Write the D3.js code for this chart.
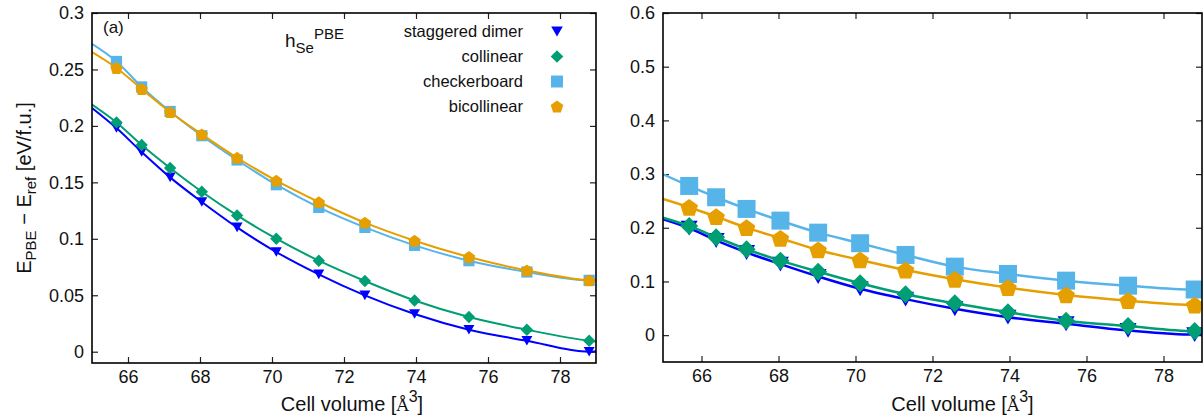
<!DOCTYPE html>
<html>
<head>
<meta charset="utf-8">
<script src="https://cdn.jsdelivr.net/npm/d3@7"></script>
<style>
  body { margin: 0; background: #fff; }
  svg { display: block; }
  text { font-family: "Liberation Sans", Arial, Helvetica, sans-serif; fill: #111; }
</style>
</head>
<body>
<svg id="chart" width="1203" height="420"></svg>
<script>
// ---- data -------------------------------------------------------------
const volumes = [65.68, 66.38, 67.17, 68.05, 69.03, 70.12, 71.30, 72.58, 73.96, 75.47, 77.08, 78.81];
const seriesNames = ["staggered dimer", "collinear", "checkerboard", "bicollinear"];
const xTickValues = [66, 68, 70, 72, 74, 76, 78];
const leftYTicks = [0, 0.05, 0.1, 0.15, 0.2, 0.25, 0.3];
const rightYTicks = [0, 0.1, 0.2, 0.3, 0.4, 0.5, 0.6];

// panel (a)
const leftStaggered = [0.1981, 0.1769, 0.1544, 0.1326, 0.1101, 0.0883, 0.0685, 0.0499, 0.0334, 0.0195, 0.0097, 0.0000];
const leftCollinear = [0.2031, 0.1831, 0.1627, 0.1417, 0.1207, 0.1001, 0.0806, 0.0626, 0.0454, 0.0307, 0.0195, 0.0097];
const leftCheckerboard = [0.2571, 0.2345, 0.2128, 0.1913, 0.1698, 0.1479, 0.1278, 0.1101, 0.0942, 0.0806, 0.0706, 0.0632];
const leftBicollinear = [0.2513, 0.2327, 0.2123, 0.1925, 0.1718, 0.1515, 0.1326, 0.1143, 0.0983, 0.0839, 0.0720, 0.0632];
// fitted curves at the ends of the volume range (65 and 79 Å^3), series order
const leftFitStart = [0.2159, 0.2189, 0.2727, 0.2653];
const leftFitEnd = [0.0005, 0.0090, 0.0635, 0.0628];

// second panel
const rightStaggered = [0.1993, 0.1764, 0.1540, 0.1322, 0.1093, 0.0864, 0.0671, 0.0492, 0.0335, 0.0212, 0.0088, 0.0010];
const rightCollinear = [0.2034, 0.1823, 0.1600, 0.1388, 0.1183, 0.0966, 0.0762, 0.0594, 0.0426, 0.0270, 0.0171, 0.0078];
const rightCheckerboard = [0.2779, 0.2568, 0.2351, 0.2133, 0.1909, 0.1712, 0.1494, 0.1276, 0.1140, 0.1015, 0.0922, 0.0850];
const rightBicollinear = [0.2382, 0.2207, 0.2002, 0.1805, 0.1587, 0.1401, 0.1214, 0.1041, 0.0885, 0.0749, 0.0643, 0.0562];
const rightFitStart = [0.2159, 0.2189, 0.2997, 0.2537];
const rightFitEnd = [0.0015, 0.0085, 0.0870, 0.0585];

// ---- styling ------------------------------------------------------------
const colors = ["#0000ff", "#009e73", "#56b4e9", "#e69f00"];
const markerKinds = ["triangleDown", "diamond", "square", "pentagon"];

const svg = d3.select("#chart");

// marker outlines, centred on (0,0); s is the half-width
function markerPath(kind, s) {
  const p = d3.path();
  if (kind === "square") {
    p.rect(-s, -s, 2 * s, 2 * s);
  } else if (kind === "diamond") {
    p.moveTo(0, -s); p.lineTo(s, 0); p.lineTo(0, s); p.lineTo(-s, 0); p.closePath();
  } else if (kind === "triangleDown") {
    const h = s * 1.75;
    p.moveTo(-s, -h / 2); p.lineTo(s, -h / 2); p.lineTo(0, h / 2); p.closePath();
  } else if (kind === "pentagon") {
    const r = s / Math.sin(2 * Math.PI / 5);
    for (let k = 0; k < 5; k++) {
      const a = -Math.PI / 2 + k * 2 * Math.PI / 5;
      const px = r * Math.cos(a), py = r * Math.sin(a) + r * 0.1;
      if (k === 0) p.moveTo(px, py); else p.lineTo(px, py);
    }
    p.closePath();
  }
  return p.toString();
}

function drawPanel(cfg) {
  const g = svg.append("g");
  const x = d3.scaleLinear().domain([65, 79]).range([cfg.x0, cfg.x1]);
  const y = d3.scaleLinear().domain(cfg.yDomain).range([cfg.y1, cfg.y0]);

  const clipId = "clip" + cfg.id;
  svg.append("clipPath").attr("id", clipId)
    .append("rect").attr("x", cfg.x0).attr("y", cfg.y0)
    .attr("width", cfg.x1 - cfg.x0).attr("height", cfg.y1 - cfg.y0);

  // axes with inward ticks, mirrored on top and right
  const tickLen = 6;
  const bottom = g.append("g").attr("transform", `translate(0,${cfg.y1})`)
    .call(d3.axisBottom(x).tickValues(xTickValues).tickSize(-tickLen).tickSizeOuter(0).tickPadding(7));
  bottom.selectAll("text").attr("dy", "0.71em").style("font-size", "18px");
  g.append("g").attr("transform", `translate(0,${cfg.y0})`)
    .call(d3.axisTop(x).tickValues(xTickValues).tickSize(-tickLen).tickSizeOuter(0).tickFormat(""));
  const left = g.append("g").attr("transform", `translate(${cfg.x0},0)`)
    .call(d3.axisLeft(y).tickValues(cfg.yTicks).tickSize(-tickLen).tickSizeOuter(0).tickPadding(8).tickFormat(d => String(d)));
  left.selectAll("text").style("font-size", "18px");
  g.append("g").attr("transform", `translate(${cfg.x1},0)`)
    .call(d3.axisRight(y).tickValues(cfg.yTicks).tickSize(-tickLen).tickSizeOuter(0).tickFormat(""));
  g.selectAll(".domain").remove();
  g.selectAll(".tick line").attr("stroke", "#222").attr("stroke-width", 1.2);
  g.selectAll(".tick text").attr("fill", "#111").style("font-family", '"Liberation Sans", Arial, sans-serif');

  const line = d3.line().x(d => x(d[0])).y(d => y(d[1])).curve(d3.curveMonotoneX);
  const plot = g.append("g").attr("clip-path", `url(#${clipId})`);

  cfg.series.forEach((vals, i) => {
    const pts = [[65, cfg.fitStart[i]]]
      .concat(volumes.map((v, j) => [v, vals[j]]))
      .concat([[79, cfg.fitEnd[i]]]);
    plot.append("path").attr("d", line(pts))
      .attr("fill", "none").attr("stroke", colors[i]).attr("stroke-width", cfg.lineWidth);
    plot.selectAll(null).data(volumes.map((v, j) => [v, vals[j]])).enter()
      .append("path")
      .attr("d", markerPath(markerKinds[i], cfg.markerSize[i]))
      .attr("transform", d => `translate(${x(d[0])},${y(d[1])})`)
      .attr("fill", colors[i]);
  });

  // frame
  g.append("rect").attr("x", cfg.x0).attr("y", cfg.y0)
    .attr("width", cfg.x1 - cfg.x0).attr("height", cfg.y1 - cfg.y0)
    .attr("fill", "none").attr("stroke", "#000").attr("stroke-width", 1.6);

  // x-axis title
  const xt = g.append("text").attr("x", (cfg.x0 + cfg.x1) / 2 + cfg.titleShift).attr("y", 411)
    .attr("text-anchor", "middle").style("font-size", "20px");
  xt.append("tspan").text("Cell volume [");
  xt.append("tspan").style("font-family", '"DejaVu Serif", "Liberation Serif", serif').style("font-size", "17px").text("Å");
  xt.append("tspan").attr("dy", -9).style("font-size", "16px").text("3");
  xt.append("tspan").attr("dy", 9).text("]");

  return { g, x, y };
}

drawPanel({
  id: "a", x0: 92, x1: 596, y0: 13, y1: 363,
  yDomain: [-0.01, 0.3], yTicks: leftYTicks,
  series: [leftStaggered, leftCollinear, leftCheckerboard, leftBicollinear],
  fitStart: leftFitStart, fitEnd: leftFitEnd,
  markerSize: [5.5, 6.2, 5.6, 6.2], lineWidth: 2, titleShift: 8
});

drawPanel({
  id: "b", x0: 663, x1: 1202, y0: 13, y1: 362,
  yDomain: [-0.05, 0.6], yTicks: rightYTicks,
  series: [rightStaggered, rightCollinear, rightCheckerboard, rightBicollinear],
  fitStart: rightFitStart, fitEnd: rightFitEnd,
  markerSize: [8.5, 9, 9, 8.8], lineWidth: 2.5, titleShift: 30
});

// panel label and functional annotation
svg.append("text").attr("x", 103).attr("y", 33).style("font-size", "17px").text("(a)");
const ann = svg.append("text").attr("x", 285).attr("y", 47).style("font-size", "19px");
ann.append("tspan").text("h");
ann.append("tspan").attr("dy", 6).style("font-size", "15px").text("Se");
ann.append("tspan").attr("dy", -14.5).style("font-size", "15px").text("PBE");

// legend
const legend = svg.append("g");
seriesNames.forEach((name, i) => {
  const ly = 31.5 + i * 25;
  legend.append("text").attr("x", 523).attr("y", ly).attr("dy", "0.36em")
    .attr("text-anchor", "end").style("font-size", "16.5px").text(name);
  legend.append("path").attr("d", markerPath(markerKinds[i], [5.8, 6.3, 6, 6.3][i]))
    .attr("transform", `translate(557,${ly})`).attr("fill", colors[i]);
});

// y-axis title
const yt = svg.append("text")
  .attr("transform", "translate(31,188) rotate(-90)")
  .attr("text-anchor", "middle").style("font-size", "20px");
yt.append("tspan").text("E");
yt.append("tspan").attr("dy", 5).style("font-size", "15px").text("PBE");
yt.append("tspan").attr("dy", -5).text(" − E");
yt.append("tspan").attr("dy", 5).style("font-size", "15px").text("ref");
yt.append("tspan").attr("dy", -5).text(" [eV/f.u.]");
</script>
</body>
</html>
